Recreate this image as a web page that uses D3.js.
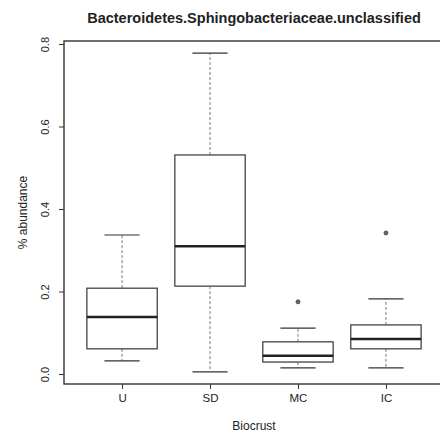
<!DOCTYPE html>
<html>
<head>
<meta charset="utf-8">
<script src="https://cdn.jsdelivr.net/npm/d3@7"></script>
<style>
  body { margin: 0; background: #fff; }
  svg text { font-family: "Liberation Sans", Arial, sans-serif; fill: #222; }
</style>
</head>
<body>
<svg id="chart" width="440" height="435"></svg>
<script>
// values
const groups = ["U", "SD", "MC", "IC"];
const lowerWhisker = [0.032, 0.005, 0.015, 0.015];
const q1 = [0.061, 0.213, 0.029, 0.061];
const median = [0.138, 0.310, 0.044, 0.085];
const q3 = [0.208, 0.531, 0.078, 0.119];
const upperWhisker = [0.337, 0.778, 0.111, 0.182];
const outliers = [[], [], [0.175], [0.342]];
const yTicks = [0.0, 0.2, 0.4, 0.6, 0.8];

const svg = d3.select("#chart");
const plotL = 64, plotR = 444, plotT = 41, plotB = 384;

// R-style ranges: x from 0.34 to 4.66, y padded 4%
const x = d3.scaleLinear().domain([0.34, 4.66]).range([plotL, plotR]);
const y = d3.scaleLinear().domain([0, 0.8]).range([374, 44]);

const boxes = groups.map((g, i) => ({
  g, pos: i + 1,
  lo: lowerWhisker[i], q1: q1[i], med: median[i], q3: q3[i], hi: upperWhisker[i],
  out: outliers[i]
}));

const halfW = x(1.4) - x(1);
const capW = halfW / 2;

const bx = svg.append("g").attr("class", "boxes");
const b = bx.selectAll("g.box").data(boxes).enter().append("g").attr("class", "box");

// whiskers (dashed)
b.append("line")
  .attr("x1", d => x(d.pos)).attr("x2", d => x(d.pos))
  .attr("y1", d => y(d.q3)).attr("y2", d => y(d.hi))
  .attr("stroke", "#555").attr("stroke-width", 0.8).attr("stroke-dasharray", "3,2");
b.append("line")
  .attr("x1", d => x(d.pos)).attr("x2", d => x(d.pos))
  .attr("y1", d => y(d.q1)).attr("y2", d => y(d.lo))
  .attr("stroke", "#555").attr("stroke-width", 0.8).attr("stroke-dasharray", "3,2");
// caps
["hi", "lo"].forEach(k => {
  b.append("line")
    .attr("x1", d => x(d.pos) - capW).attr("x2", d => x(d.pos) + capW)
    .attr("y1", d => y(d[k])).attr("y2", d => y(d[k]))
    .attr("stroke", "#333").attr("stroke-width", 1.2);
});
// box
b.append("rect")
  .attr("x", d => x(d.pos) - halfW).attr("width", 2 * halfW)
  .attr("y", d => y(d.q3)).attr("height", d => y(d.q1) - y(d.q3))
  .attr("fill", "none").attr("stroke", "#444").attr("stroke-width", 1.3);
// median
b.append("line")
  .attr("x1", d => x(d.pos) - halfW).attr("x2", d => x(d.pos) + halfW)
  .attr("y1", d => y(d.med)).attr("y2", d => y(d.med))
  .attr("stroke", "#222").attr("stroke-width", 2.5);
// outliers
b.selectAll("circle").data(d => d.out.map(v => ({ v, pos: d.pos }))).enter()
  .append("circle")
  .attr("cx", d => x(d.pos)).attr("cy", d => y(d.v)).attr("r", 2)
  .attr("fill", "#666").attr("stroke", "#444").attr("stroke-width", 0.8);

// plot frame
svg.append("rect")
  .attr("x", plotL).attr("y", plotT).attr("width", plotR - plotL).attr("height", plotB - plotT)
  .attr("fill", "none").attr("stroke", "#333").attr("stroke-width", 1.4);

// y axis, labels rotated like R's las=0
const yAxis = svg.append("g")
  .attr("transform", "translate(" + plotL + ",0)")
  .call(d3.axisLeft(y).tickValues(yTicks).tickFormat(d3.format(".1f")).tickSize(5));
yAxis.select(".domain").remove();
yAxis.selectAll("line").attr("stroke", "#333");
yAxis.selectAll(".tick text")
  .attr("font-size", 11)
  .attr("text-anchor", "middle")
  .attr("x", null).attr("dy", null)
  .attr("transform", "translate(-15,0) rotate(-90)");

// x axis
const xAxis = svg.append("g")
  .attr("transform", "translate(0," + plotB + ")")
  .call(d3.axisBottom(x).tickValues(boxes.map(d => d.pos)).tickFormat((d, i) => groups[i]).tickSize(5).tickPadding(5));
xAxis.select(".domain").remove();
xAxis.selectAll("line").attr("stroke", "#333");
xAxis.selectAll("text").attr("font-size", 11.5);

// titles
svg.append("text")
  .attr("x", (plotL + plotR) / 2).attr("y", 23)
  .attr("text-anchor", "middle").attr("font-size", 14.5).attr("font-weight", "bold")
  .text("Bacteroidetes.Sphingobacteriaceae.unclassified");
svg.append("text")
  .attr("x", (plotL + plotR) / 2).attr("y", 430)
  .attr("text-anchor", "middle").attr("font-size", 12)
  .text("Biocrust");
svg.append("text")
  .attr("transform", "translate(27," + (plotT + plotB) / 2 + ") rotate(-90)")
  .attr("text-anchor", "middle").attr("font-size", 12)
  .text("% abundance");
</script>
</body>
</html>
